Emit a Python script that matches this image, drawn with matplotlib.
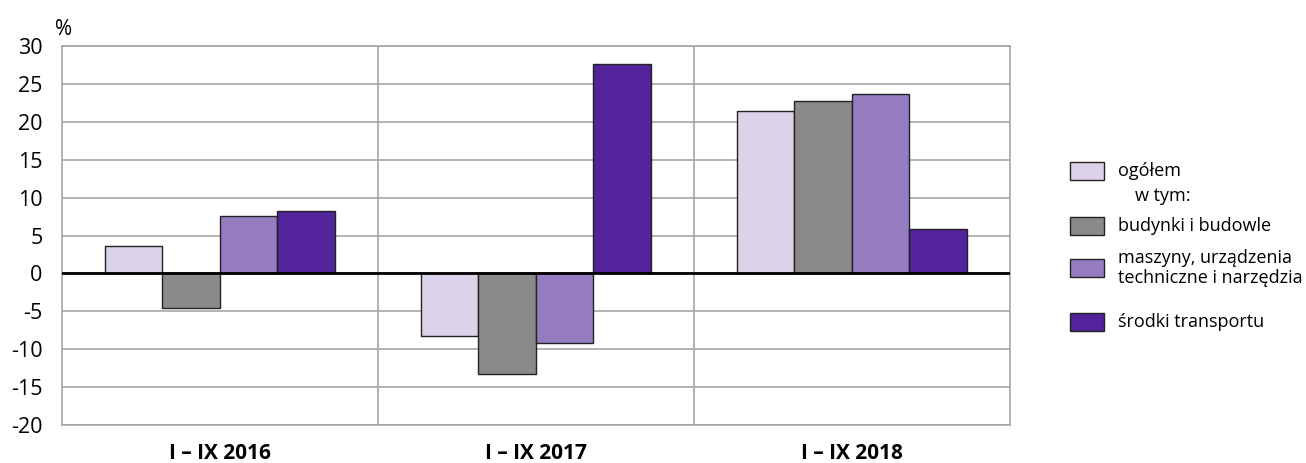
import numpy as np
import matplotlib
matplotlib.use('Agg')
import matplotlib.pyplot as plt
from matplotlib.patches import Rectangle

plt.rcParams['font.family'] = ['Open Sans', 'DejaVu Sans']

groups = ['I – IX 2016', 'I – IX 2017', 'I – IX 2018']
series = ['ogółem', 'budynki i budowle', 'maszyny, urządzenia\ntechniczne i narzędzia', 'środki transportu']
colors = ['#dcd3ea', '#8a8a8a', '#957cc0', '#52239a']
values = [
    [3.6, -8.2, 21.4],
    [-4.5, -13.3, 22.8],
    [7.6, -9.2, 23.7],
    [8.2, 27.6, 5.9],
]
yticks = list(range(-20, 35, 5))

fig = plt.figure(figsize=(13.06, 4.63), dpi=100)
ax = fig.add_axes([0.0475, 0.082, 0.7255, 0.8186])

x = np.arange(len(groups))
w = 0.182
for i, (vals, c) in enumerate(zip(values, colors)):
    ax.bar(x + (i - 1.5) * w, vals, width=w, color=c, edgecolor='#222222', linewidth=1.0, zorder=3)

ax.set_xlim(-0.5, len(groups) - 0.5)
ax.set_ylim(-20, 30)
ax.set_yticks(yticks)
ax.set_yticklabels([str(t) for t in yticks], fontsize=15.5)
ax.yaxis.grid(True, color='#a6a6a6', linewidth=1.2, zorder=0)
for b in np.arange(0.5, len(groups) - 0.5, 1):
    ax.axvline(b, color='#a6a6a6', linewidth=1.2, zorder=0)
ax.axhline(0, color='black', linewidth=2, zorder=4)
ax.tick_params(axis='y', length=0, pad=14)
ax.set_xticks(x)
ax.set_xticklabels(groups, fontsize=15, fontweight='bold')
ax.tick_params(axis='x', length=0, pad=13)
for s in ax.spines.values():
    s.set_color('#a6a6a6')
    s.set_linewidth(1.2)

fig.text(0.042, 0.925, '%', fontsize=15)

# legend
lx, lw, lh = 1070 / 1306, 34 / 1306, 18 / 463
rows = [171, 226, 268, 322]
for lab, c, yc in zip(series, colors, rows):
    yf = 1 - yc / 463
    fig.add_artist(Rectangle((lx, yf - lh / 2), lw, lh, facecolor=c,
                             edgecolor='#222222', linewidth=1.0, transform=fig.transFigure))
    fig.text(1118 / 1306, yf, lab, fontsize=13, va='center', linespacing=1.1)
fig.text(1135 / 1306, 1 - 196 / 463, 'w tym:', fontsize=13, va='center')

fig.savefig('out.png', dpi=100)
